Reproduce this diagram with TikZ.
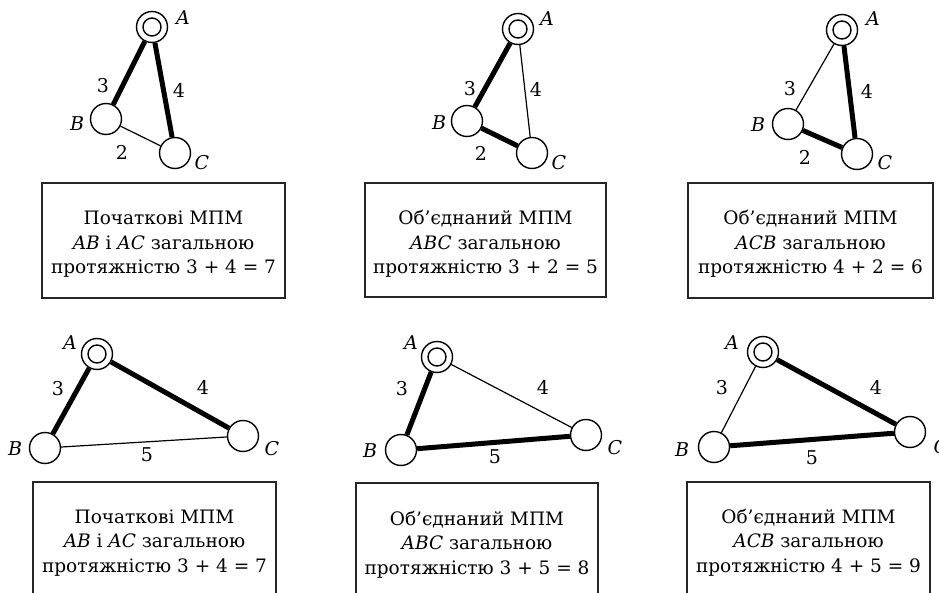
\documentclass[tikz,border=0pt]{standalone}
\usepackage{fontspec}
\setmainfont{DejaVu Serif}
\begin{document}
\begin{tikzpicture}[x=1pt,y=-1pt,
  vert/.style={circle, draw, line width=1.4pt, minimum size=31pt, inner sep=0pt, fill=white},
  rootv/.style={vert, path picture={\draw[line width=1.4pt] (path picture bounding box.center) circle (9pt);}},
  thinedge/.style={line width=1.2pt},
  thickedge/.style={line width=5pt},
  lab/.style={font=\fontsize{19}{19}\selectfont, inner sep=0pt},
  vlab/.style={lab, font=\fontsize{19}{19}\selectfont\itshape},
  frame/.style={draw=black!85, line width=1.4pt, inner sep=0pt},
  caption/.style={font=\fontsize{18.5}{24.5}\selectfont, align=center, anchor=base, inner sep=0pt}
]
\useasboundingbox (0,0) rectangle (939,593);

% ---------- top row, panel 1 ----------
\node[rootv] (a1) at (152,27) {};
\node[vert] (b1) at (106,119) {};
\node[vert] (c1) at (175,153) {};
\draw[thickedge] (a1) -- (b1);
\draw[thickedge] (a1) -- (c1);
\draw[thinedge] (b1) -- (c1);
\node[vlab] (la1) at (183,18) {A};
\node[vlab] (lb1) at (77,124) {B};
\node[vlab] (lc1) at (202,163) {C};
\node[lab] (w31) at (103,86) {3};
\node[lab] (w41) at (179,90) {4};
\node[lab] (w21) at (122,152) {2};

% ---------- top row, panel 2 ----------
\node[rootv] (a2) at (518,29) {};
\node[vert] (b2) at (467,121) {};
\node[vert] (c2) at (532,153) {};
\draw[thickedge] (a2) -- (b2);
\draw[thinedge] (a2) -- (c2);
\draw[thickedge] (b2) -- (c2);
\node[vlab] (la2) at (547,19) {A};
\node[vlab] (lb2) at (439,123) {B};
\node[vlab] (lc2) at (559,163) {C};
\node[lab] (w32) at (470,89) {3};
\node[lab] (w42) at (536,89) {4};
\node[lab] (w22) at (481,153) {2};

% ---------- top row, panel 3 ----------
\node[rootv] (a3) at (842,30) {};
\node[vert] (b3) at (788,124) {};
\node[vert] (c3) at (857,154) {};
\draw[thinedge] (a3) -- (b3);
\draw[thickedge] (a3) -- (c3);
\draw[thickedge] (b3) -- (c3);
\node[vlab] (la3) at (873,19) {A};
\node[vlab] (lb3) at (758,125) {B};
\node[vlab] (lc3) at (885,163) {C};
\node[lab] (w33) at (790,89) {3};
\node[lab] (w43) at (867,91) {4};
\node[lab] (w23) at (805,157) {2};

% ---------- top row boxes ----------
\node[frame, minimum width=243pt, minimum height=115pt] (f1) at (163.5,240.5) {};
\node[caption] (t1) at (163.5,274) {Початкові МПМ\\\textit{AB} і \textit{AC} загальною\\протяжністю 3 + 4 = 7};
\node[frame, minimum width=241pt, minimum height=114pt] (f2) at (485.5,240) {};
\node[caption] (t2) at (485.5,274) {Об’єднаний МПМ\\\textit{ABC} загальною\\протяжністю 3 + 2 = 5};
\node[frame, minimum width=245pt, minimum height=115pt] (f3) at (810.5,240.5) {};
\node[caption] (t3) at (810.5,274) {Об’єднаний МПМ\\\textit{ACB} загальною\\протяжністю 4 + 2 = 6};

% ---------- bottom row, panel 1 ----------
\node[rootv] (a4) at (97,354) {};
\node[vert] (b4) at (45,448) {};
\node[vert] (c4) at (243,436) {};
\draw[thickedge] (a4) -- (b4);
\draw[thickedge] (a4) -- (c4);
\draw[thinedge] (b4) -- (c4);
\node[vlab] (la4) at (70,343) {A};
\node[vlab] (lb4) at (15,449) {B};
\node[vlab] (lc4) at (272,449) {C};
\node[lab] (w34) at (58,389) {3};
\node[lab] (w44) at (203,387) {4};
\node[lab] (w54) at (147,455) {5};

% ---------- bottom row, panel 2 ----------
\node[rootv] (a5) at (437,357) {};
\node[vert] (b5) at (401,450) {};
\node[vert] (c5) at (586,435) {};
\draw[thickedge] (a5) -- (b5);
\draw[thinedge] (a5) -- (c5);
\draw[thickedge] (b5) -- (c5);
\node[vlab] (la5) at (411,343) {A};
\node[vlab] (lb5) at (370,451) {B};
\node[vlab] (lc5) at (615,448) {C};
\node[lab] (w35) at (402,389) {3};
\node[lab] (w45) at (543,387) {4};
\node[lab] (w55) at (495,457) {5};

% ---------- bottom row, panel 3 ----------
\node[rootv] (a6) at (763,352) {};
\node[vert] (b6) at (714,447) {};
\node[vert] (c6) at (910,432) {};
\draw[thinedge] (a6) -- (b6);
\draw[thickedge] (a6) -- (c6);
\draw[thickedge] (b6) -- (c6);
\node[vlab] (la6) at (732,343) {A};
\node[vlab] (lb6) at (682,450) {B};
\node[vlab] (lc6) at (941,447) {C};
\node[lab] (w36) at (722,388) {3};
\node[lab] (w46) at (876,387) {4};
\node[lab] (w56) at (812,458) {5};

% ---------- bottom row boxes ----------
\node[frame, minimum width=243pt, minimum height=140pt] (f4) at (154.5,552) {};
\node[caption] (t4) at (154.5,572) {Початкові МПМ\\\textit{AB} і \textit{AC} загальною\\протяжністю 3 + 4 = 7};
\node[frame, minimum width=242pt, minimum height=140pt] (f5) at (477,553) {};
\node[caption] (t5) at (477,574) {Об’єднаний МПМ\\\textit{ABC} загальною\\протяжністю 3 + 5 = 8};
\node[frame, minimum width=243pt, minimum height=140pt] (f6) at (808.5,552) {};
\node[caption] (t6) at (808.5,572) {Об’єднаний МПМ\\\textit{ACB} загальною\\протяжністю 4 + 5 = 9};
\end{tikzpicture}
\end{document}
